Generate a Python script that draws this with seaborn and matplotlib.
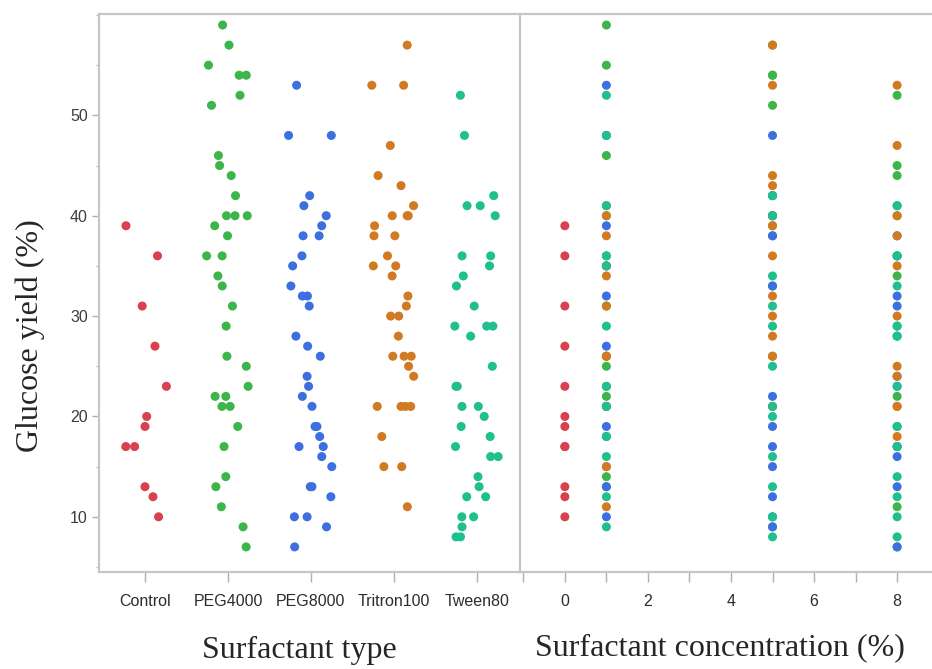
import numpy as np
import pandas as pd
import matplotlib
matplotlib.use('Agg')
import matplotlib.pyplot as plt
import seaborn as sns
from matplotlib.ticker import MultipleLocator, FixedLocator

# Surfactant groups and colours
types = ['Control', 'PEG4000', 'PEG8000', 'Tritron100', 'Tween80']
colors = ['#d8414f', '#3cb54a', '#3c6fe0', '#d27a22', '#1fbf8e']

# Glucose yield (%), per surfactant and concentration (%)
control_c0 = [39, 36, 31, 27, 23, 20, 19, 17, 17, 13, 12, 10]

peg4000_c1 = [59, 55, 46, 25, 22, 14, 40, 36, 31, 23, 13, 21]
peg4000_c5 = [54, 51, 57, 54, 42, 40, 39, 38, 33, 26, 21, 9]
peg4000_c8 = [52, 45, 44, 34, 22, 11, 40, 36, 29, 19, 17, 7]

peg8000_c1 = [53, 39, 32, 27, 19, 13, 10, 48, 35, 26, 21, 18]
peg8000_c5 = [48, 38, 33, 22, 19, 17, 15, 12, 9, 42, 40, 10]
peg8000_c8 = [32, 31, 16, 13, 7, 41, 38, 36, 28, 24, 23, 17]

tritron_c1 = [40, 38, 34, 31, 26, 15, 11, 41, 35, 21, 15, 26]
tritron_c5 = [57, 53, 44, 43, 39, 36, 32, 30, 28, 26, 40, 21]
tritron_c8 = [53, 47, 40, 38, 35, 30, 25, 24, 21, 18, 21]

tween_c1 = [52, 48, 41, 36, 35, 29, 23, 21, 18, 16, 12, 9]
tween_c5 = [42, 40, 34, 31, 29, 25, 21, 20, 16, 13, 10, 8]
tween_c8 = [41, 36, 33, 29, 28, 23, 19, 17, 14, 12, 10, 8]

y_ticks = [10, 20, 30, 40, 50]
conc_ticks = [-1, 0, 1, 2, 3, 4, 5, 6, 7, 8]
conc_labels = ['', '0', '', '2', '', '4', '', '6', '', '8']

groups = [
    ('Control', 0, control_c0),
    ('PEG4000', 1, peg4000_c1), ('PEG4000', 5, peg4000_c5), ('PEG4000', 8, peg4000_c8),
    ('PEG8000', 1, peg8000_c1), ('PEG8000', 5, peg8000_c5), ('PEG8000', 8, peg8000_c8),
    ('Tritron100', 1, tritron_c1), ('Tritron100', 5, tritron_c5), ('Tritron100', 8, tritron_c8),
    ('Tween80', 1, tween_c1), ('Tween80', 5, tween_c5), ('Tween80', 8, tween_c8),
]

rows = []
for t, c, vals in groups:
    for v in vals:
        rows.append((t, c, v))
df = pd.DataFrame(rows, columns=['type', 'conc', 'glucose'])

palette = dict(zip(types, colors))

sns.set_style('white')
plt.rcParams['font.family'] = ['Liberation Sans', 'DejaVu Sans']

W, H = 932, 669
fig = plt.figure(figsize=(W / 100, H / 100), dpi=100)
ax1 = fig.add_axes([99 / W, 97 / H, 421 / W, 558 / H])
ax2 = fig.add_axes([520 / W, 97 / H, 412 / W, 558 / H], sharey=ax1)

# Left panel: jittered points by surfactant type
np.random.seed(7)
sns.stripplot(data=df, x='type', y='glucose', hue='type', order=types,
              hue_order=types, palette=palette, jitter=0.27, size=6.5,
              linewidth=0, legend=False, ax=ax1)

# Right panel: points by concentration
sns.scatterplot(data=df, x='conc', y='glucose', hue='type', hue_order=types,
                palette=palette, s=42, linewidth=0, legend=False, ax=ax2)

spine_col = '#c6c6c6'
for ax in (ax1, ax2):
    for side in ['top', 'bottom', 'left']:
        ax.spines[side].set_color(spine_col)
        ax.spines[side].set_linewidth(1.6)
    ax.spines['right'].set_visible(False)
    ax.set_xlabel('')
    ax.set_ylabel('')

ax1.set_xlim(-0.554, 4.52)
ax1.set_ylim(4.5, 60.1)
ax1.yaxis.set_major_locator(FixedLocator(y_ticks))
ax1.yaxis.set_minor_locator(MultipleLocator(5))
ax1.tick_params(axis='y', which='major', left=True, direction='out', length=5,
                width=1, color='#b0b0b0', labelsize=11.5, labelcolor='#3c3c3c', pad=3)
ax1.tick_params(axis='y', which='minor', left=True, direction='out', length=2.5,
                width=1, color='#c0c0c0')
ax1.tick_params(axis='x', bottom=True, direction='out', length=7, width=1,
                color='#b0b0b0', labelsize=11.5, labelcolor='#2c2c2c', pad=9)

ax2.set_xlim(-1.08, 8.84)
ax2.set_xticks(conc_ticks)
ax2.set_xticklabels(conc_labels)
ax2.tick_params(axis='x', bottom=True, direction='out', length=7, width=1,
                color='#b0b0b0', labelsize=11.5, labelcolor='#2c2c2c', pad=9)
ax2.tick_params(axis='y', which='both', left=False, labelleft=False)

serif = ['Liberation Serif', 'DejaVu Serif']
fig.text(30 / W, 1 - 336 / H, 'Glucose yield (%)', rotation=90, ha='center',
         va='center', fontsize=23, family=serif)
fig.text(299 / W, 11 / H, 'Surfactant type', ha='center', va='baseline',
         fontsize=23, family=serif)
fig.text(720 / W, 14 / H, 'Surfactant concentration (%)', ha='center',
         va='baseline', fontsize=23, family=serif)

fig.savefig('out.png', dpi=100)
